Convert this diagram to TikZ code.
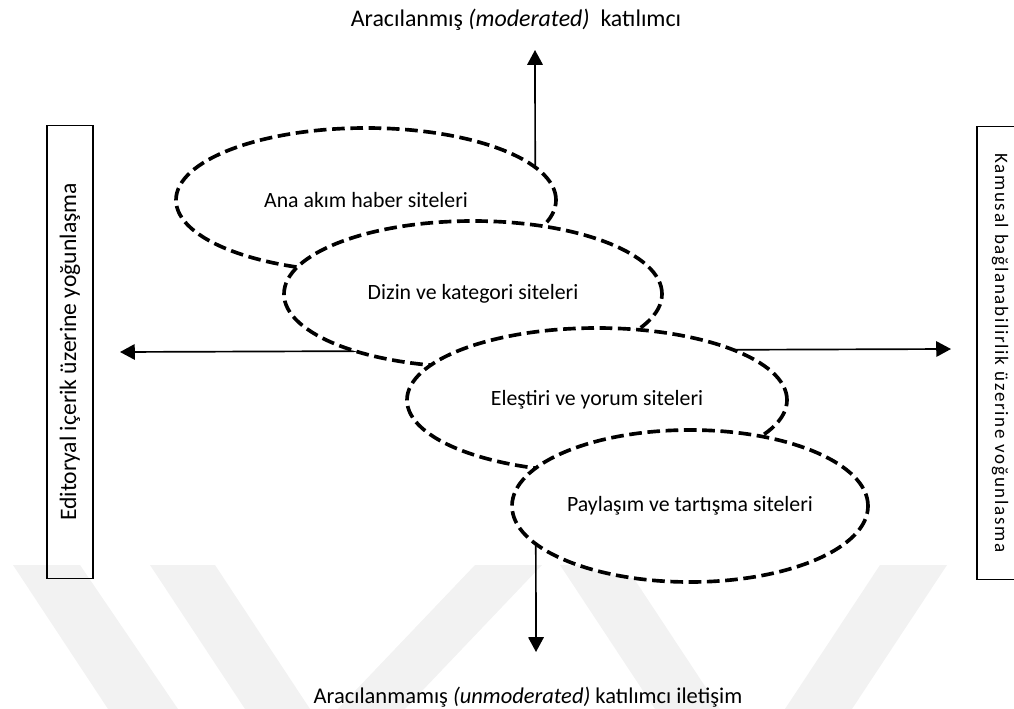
\documentclass[tikz,border=0pt]{standalone}
\usepackage{fontspec}
\setmainfont{Carlito}
\usetikzlibrary{arrows.meta, shapes.geometric}

\def\px{0.025cm}

\begin{document}
\begin{tikzpicture}[x = \px, y = -\px,
		site/.style = {ellipse, draw, fill = white, line width = 2.6pt, dash pattern = on 9pt off 4pt, inner sep = 0pt, font = \fontsize{15.5}{18}\selectfont},
		axis/.style = {line width = 1.2pt, {Triangle[length = 10.5pt, width = 11pt]}-{Triangle[length = 10.5pt, width = 11pt]}},
		focusbox/.style = {draw, line width = 1.2pt, minimum width = 453*\px, minimum height = 46*\px, inner sep = 0pt, font = \fontsize{16.8}{19}\selectfont},
		axislabel/.style = {anchor = base, inner sep = 0pt, font = \fontsize{16}{19}\selectfont},
		watermark/.style = {fill = black!5}]
		\useasboundingbox (0,0) rectangle (1014,709);

		\begin{scope}
			\clip (0,0) rectangle (1014,709);
			\fill[watermark] (13,565) -- (80,565) -- (180,712) -- (110,712) -- cycle;
			\fill[watermark] (150,565) -- (215,565) -- (312,712) -- (247,712) -- cycle;
			\fill[watermark] (475,565) -- (542,565) -- (402,712) -- (335,712) -- cycle;
			\fill[watermark] (560,565) -- (625,565) -- (722,712) -- (657,712) -- cycle;
			\fill[watermark] (880,565) -- (947,565) -- (850,712) -- (783,712) -- cycle;
		\end{scope}

		\coordinate (north) at (535,50);
		\coordinate (south) at (536,652);
		\coordinate (west) at (120,352);
		\coordinate (east) at (951,349);

		\draw[axis] (south) -- (north);
		\draw[axis] (west) -- (east);

		\node[site, minimum width = 380*\px, minimum height = 144*\px] (mainstream) at (366,200) {Ana akım haber siteleri};
		\node[site, minimum width = 378*\px, minimum height = 146*\px] (index) at (473,294) {Dizin ve kategori siteleri};
		\node[site, minimum width = 380*\px, minimum height = 144*\px] (critique) at (597,400) {Eleştiri ve yorum siteleri};
		\node[site, minimum width = 356*\px, minimum height = 152*\px] (sharing) at (690,506) {Paylaşım ve tartışma siteleri};

		\node[focusbox, rotate = 90] (editorial) at (70,352) {Editoryal içerik üzerine yoğunlaşma};
		\node[focusbox, rotate = -90, font = \fontsize{13.5}{16}\selectfont\addfontfeature{LetterSpace = 9}] (public) at (1000,353) {Kamusal bağlanabilirlik üzerine voğunlasma};

		\node[axislabel, font = \fontsize{17}{20}\selectfont] (moderated) at (516,27) {Aracılanmış \textit{(moderated)}\ \ katılımcı};
		\node[axislabel] (unmoderated) at (528,703) {Aracılanmamış \textit{(unmoderated)} katılımcı iletişim};
	\end{tikzpicture}
\end{document}
